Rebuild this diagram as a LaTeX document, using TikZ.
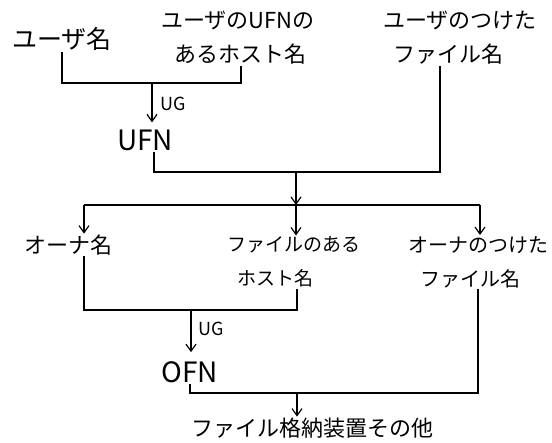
\documentclass[tikz,border=0pt]{standalone}
\usepackage{fontspec}
\newfontfamily\jp{Noto Sans CJK JP}
\usetikzlibrary{arrows.meta}
\tikzset{
  lbl/.style={font=\jp\fontsize{22}{34}\selectfont, align=left, inner sep=1pt},
  code/.style={font=\jp\fontsize{28}{30}\selectfont, inner sep=1pt},
  small/.style={font=\jp\fontsize{18}{20}\selectfont, inner sep=1pt, anchor=west},
  wire/.style={line width=1.3pt},
  arr/.style={wire, -{Straight Barb[length=7pt,width=10pt,line width=1.2pt]}}
}
\begin{document}
\begin{tikzpicture}[x=1pt,y=-1pt]
\useasboundingbox (0,0) rectangle (552,443);
% top row
\node[lbl, font=\jp\fontsize{25}{34}\selectfont] (n1) at (62,39) {ユーザ名};
\node[lbl] (n2) at (238,38) {ユーザのUFNの\\\hspace*{13pt}あるホスト名};
\node[lbl] (n3) at (460,38) {ユーザのつけた\\\hspace*{10pt}ファイル名};
\node[code] (ufn) at (145,140) {UFN};
% second row
\node[lbl] (o1) at (68,245) {オーナ名};
\node[lbl, font=\jp\fontsize{19}{34}\selectfont] (o2) at (294,262) {ファイルのある\\\hspace*{10pt}ホスト名};
\node[lbl, font=\jp\fontsize{20}{34}\selectfont] (o3) at (478,262) {オーナのつけた\\\hspace*{12pt}ファイル名};
\node[code] (ofn) at (190,372) {OFN};
\node[lbl] (st) at (312,428) {ファイル格納装置その他};
% coordinates
\coordinate (j1) at (152,83);
\coordinate (j2) at (296,172);
\coordinate (j3) at (296,205);
\coordinate (b1) at (84,205);
\coordinate (b3) at (480,205);
\coordinate (j4) at (191,310);
\coordinate (j5) at (297,393);
% labels
\node[small] (ug1) at (159,104) {UG};
\node[small] (ug2) at (197,329) {UG};
% connectors top
\draw[wire] (n1.south) |- (j1) -| ([xshift=3pt]n2.south);
\draw[arr, shorten >=6pt] (j1) -- (j1 |- ufn.north);
\draw[wire] ([xshift=9pt]ufn.south) |- (j2) -| ([xshift=-20pt]n3.south);
\draw[arr] (j2) -- (j3);
\draw[wire] (b1) -- (b3);
\draw[arr] (b1) -- (b1 |- o1.north);
\draw[arr] (j3) -- (o2.north -| j3);
\draw[arr] (b3) -- (b3 |- o3.north);
% connectors bottom
\draw[wire] ([xshift=16pt]o1.south) |- (j4) -| ([xshift=3pt]o2.south);
\draw[arr, shorten >=8pt] (j4) -- (j4 |- ofn.north);
\draw[wire] (ofn.south) |- (j5) -| (o3.south);
\draw[arr] (j5) -- (j5 |- st.north);
\end{tikzpicture}
\end{document}
